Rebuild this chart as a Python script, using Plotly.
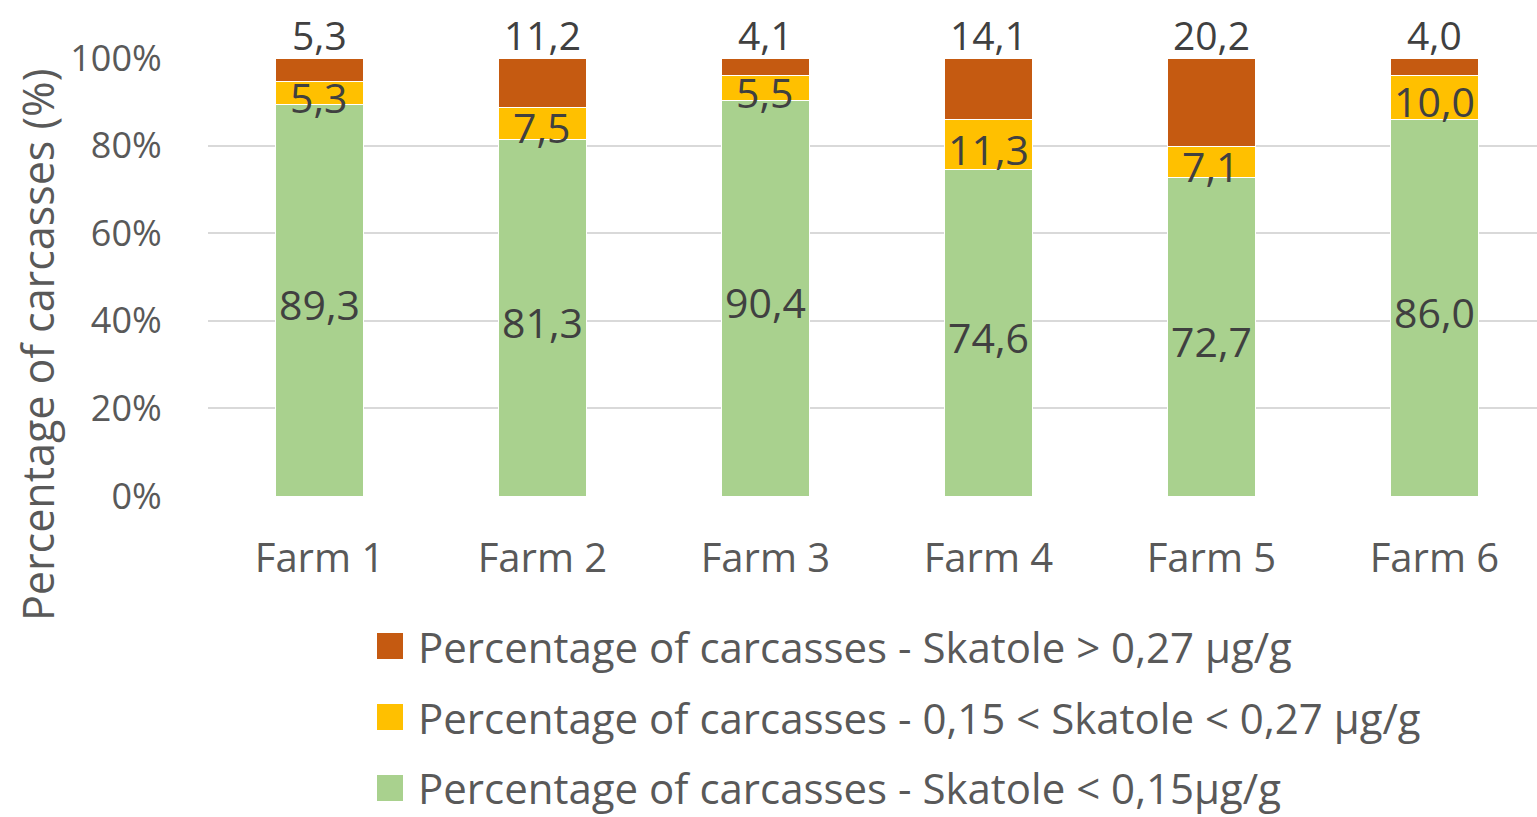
import plotly.graph_objects as go

farms = ["Farm 1", "Farm 2", "Farm 3", "Farm 4", "Farm 5", "Farm 6"]
low_skatole = [89.3, 81.3, 90.4, 74.6, 72.7, 86.0]
mid_skatole = [5.3, 7.5, 5.5, 11.3, 7.1, 10.0]
high_skatole = [5.3, 11.2, 4.1, 14.1, 20.2, 4.0]

series_names = [
    "Percentage of carcasses - Skatole < 0,15µg/g",
    "Percentage of carcasses - 0,15 < Skatole < 0,27 µg/g",
    "Percentage of carcasses - Skatole > 0,27 µg/g",
]
series_values = [low_skatole, mid_skatole, high_skatole]
series_colors = ["#A9D18E", "#FFC000", "#C55A11"]
y_ticks = [0, 20, 40, 60, 80, 100]
y_ticklabels = ["0%", "20%", "40%", "60%", "80%", "100%"]

FONT = "Open Sans"
AXIS_GRAY = "#595959"
LABEL_GRAY = "#404040"

W, H = 1537, 817
M_L, M_R, M_T, M_B = 208, 0, 58, 321


def fmt(v):
    return f"{v:.1f}".replace(".", ",")


fig = go.Figure()
for name, vals, col in zip(series_names, series_values, series_colors):
    fig.add_trace(go.Bar(
        x=list(range(len(farms))), y=vals, name=name,
        marker=dict(color=col, line=dict(color="white", width=1)),
        width=0.395, showlegend=False, hoverinfo="skip",
    ))

annotations = []
# Data labels: lower two series centred in their segment, top series above the bar
base = [0.0] * len(farms)
for si, vals in enumerate(series_values):
    for i, v in enumerate(vals):
        if si < 2:
            annotations.append(dict(
                x=i, y=base[i] + v / 2, xref="x", yref="y", text=fmt(v),
                showarrow=False, yshift=-4,
                font=dict(family=FONT, size=41, color=LABEL_GRAY),
            ))
        else:
            annotations.append(dict(
                x=i, y=base[i] + v, xref="x", yref="y", text=fmt(v),
                showarrow=False, yshift=24,
                font=dict(family=FONT, size=39, color=LABEL_GRAY),
            ))
        base[i] += v

# Legend drawn as squares + text, top series first
legend_rows = [(series_names[2], series_colors[2], 646),
               (series_names[1], series_colors[1], 717),
               (series_names[0], series_colors[0], 788)]
shapes = []
for name, col, yc in legend_rows:
    shapes.append(dict(
        type="rect", xref="paper", yref="paper",
        x0=(377 - M_L) / (W - M_L - M_R), x1=(403 - M_L) / (W - M_L - M_R),
        y0=(H - M_B - (yc + 13)) / (H - M_T - M_B),
        y1=(H - M_B - (yc - 13)) / (H - M_T - M_B),
        fillcolor=col, line=dict(width=0),
    ))
    annotations.append(dict(
        x=(416 - M_L) / (W - M_L - M_R), y=(H - M_B - yc) / (H - M_T - M_B),
        xref="paper", yref="paper", xanchor="left", yanchor="middle",
        text=name, showarrow=False,
        font=dict(family=FONT, size=42, color=AXIS_GRAY),
    ))

# Y axis title
annotations.append(dict(
    x=(37 - M_L) / (W - M_L - M_R), y=(H - M_B - 345) / (H - M_T - M_B),
    xref="paper", yref="paper", xanchor="center", yanchor="middle",
    text="Percentage of carcasses (%)", textangle=-90, showarrow=False,
    font=dict(family=FONT, size=43, color=AXIS_GRAY),
))

fig.update_layout(
    barmode="stack",
    width=W, height=H,
    margin=dict(l=M_L, r=M_R, t=M_T, b=M_B, pad=0),
    paper_bgcolor="white", plot_bgcolor="white",
    showlegend=False,
    annotations=annotations,
    shapes=shapes,
    xaxis=dict(
        range=[-0.5, 5.46], tickmode="array",
        tickvals=list(range(len(farms))), ticktext=farms,
        tickfont=dict(family=FONT, size=40, color=AXIS_GRAY),
        ticks="outside", ticklen=27, tickcolor="rgba(0,0,0,0)",
        showgrid=False, zeroline=False, showline=False,
    ),
    yaxis=dict(
        range=[0, 100], tickmode="array",
        tickvals=y_ticks, ticktext=y_ticklabels,
        tickfont=dict(family=FONT, size=36, color=AXIS_GRAY),
        ticks="outside", ticklen=38, tickcolor="rgba(0,0,0,0)",
        showgrid=True, gridcolor="#D9D9D9", gridwidth=2,
        zeroline=False, showline=False,
    ),
)

fig.write_html("out.html")
